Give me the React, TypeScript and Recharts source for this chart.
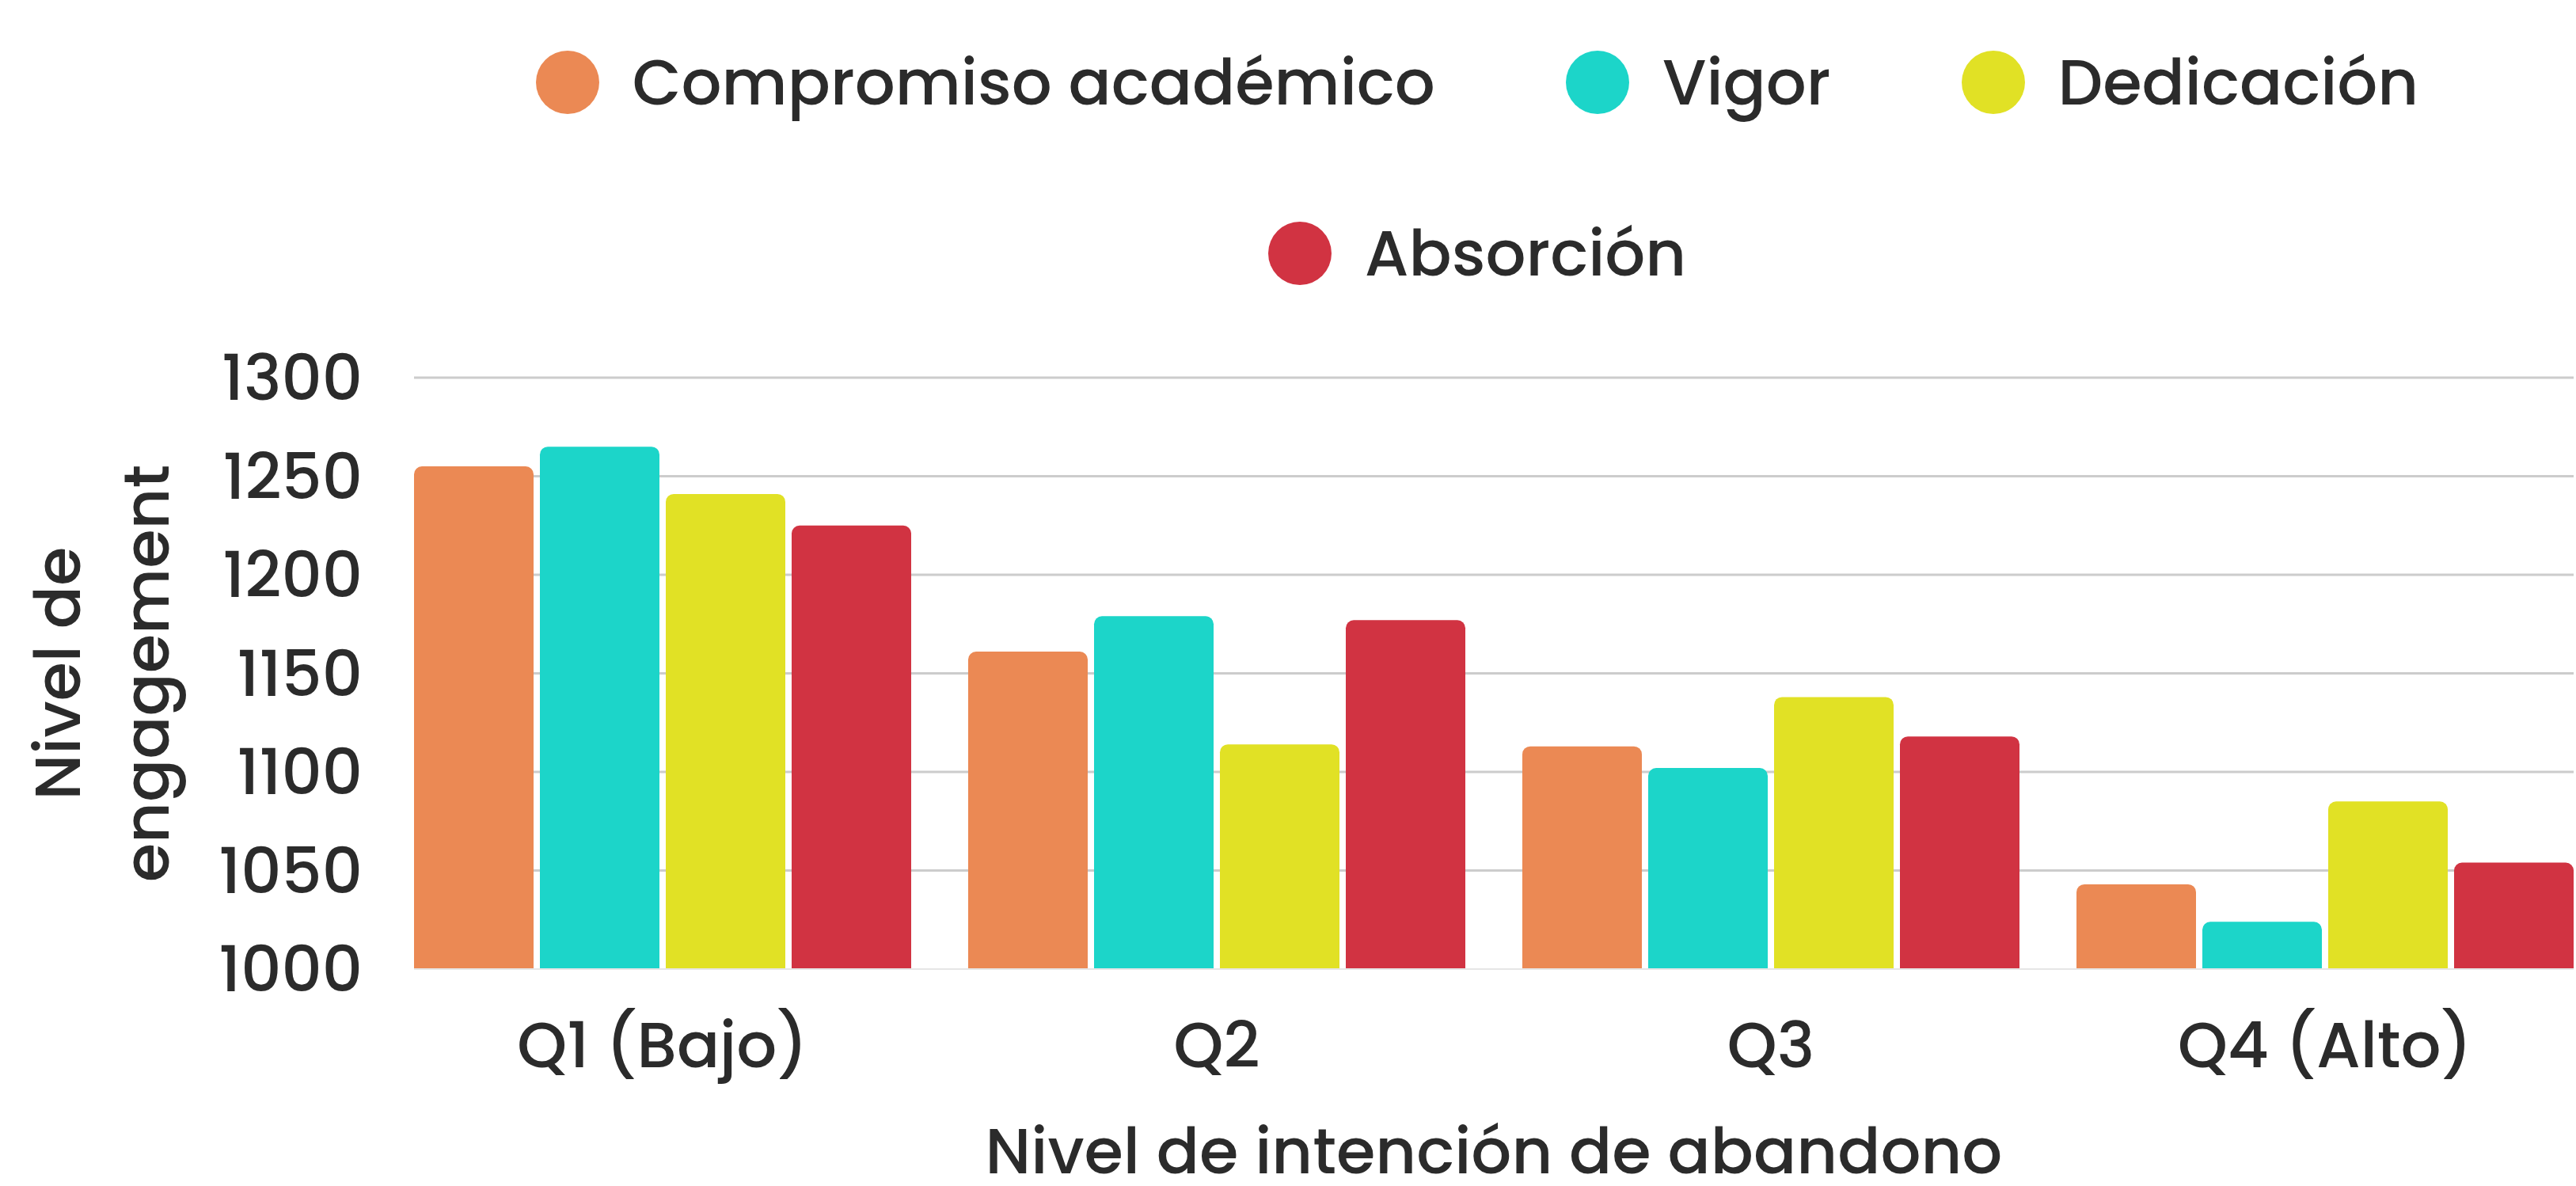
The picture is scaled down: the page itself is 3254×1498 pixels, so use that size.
import React from "react";
import {
  Bar,
  BarChart,
  CartesianGrid,
  Label,
  Legend,
  XAxis,
  YAxis,
} from "recharts";

const categories = ["Q1 (Bajo)", "Q2", "Q3", "Q4 (Alto)"];
const compromiso = [1255, 1161, 1113, 1043];
const vigor = [1265, 1179, 1102, 1024];
const dedicacion = [1241, 1114, 1138, 1085];
const absorcion = [1225, 1177, 1118, 1054];
const yTicks = [1000, 1050, 1100, 1150, 1200, 1250, 1300];

const SERIES = [
  { key: "compromiso", name: "Compromiso académico", color: "#EB8954" },
  { key: "vigor", name: "Vigor", color: "#1CD5C9" },
  { key: "dedicacion", name: "Dedicación", color: "#E1E125" },
  { key: "absorcion", name: "Absorción", color: "#D13342" },
];

const data = categories.map((cat, i) => ({
  cat,
  compromiso: compromiso[i],
  vigor: vigor[i],
  dedicacion: dedicacion[i],
  absorcion: absorcion[i],
}));

const FONT = "Poppins, 'Open Sans', sans-serif";
const WEIGHT = 500;
const TEXT = "#2b2b2b";
const W = 3254;
const H = 1498;

// keep the series order, recharts sorts legend items by name otherwise
const seriesIndex = (name: string) => SERIES.findIndex((s) => s.name === name);

function LegendRows({ payload }: { payload?: any[] }) {
  const items = [...(payload ?? [])].sort(
    (a, b) => seriesIndex(a.value) - seriesIndex(b.value)
  );
  const rows = [items.slice(0, 3), items.slice(3)];
  return (
    <div
      style={{
        boxSizing: "border-box",
        paddingLeft: 478,
        paddingTop: 64,
        width: W,
        fontFamily: FONT,
        fontWeight: WEIGHT,
        fontSize: 80,
        color: TEXT,
      }}
    >
      {rows.map((row, r) => (
        <div
          key={r}
          style={{
            display: "flex",
            justifyContent: "center",
            alignItems: "center",
            columnGap: 165,
            height: 80,
            marginBottom: 136,
          }}
        >
          {row.map((item) => (
            <div
              key={item.value}
              style={{ display: "flex", alignItems: "center", whiteSpace: "nowrap" }}
            >
              <span
                style={{
                  width: 80,
                  height: 80,
                  borderRadius: "50%",
                  background: item.color,
                  marginRight: 42,
                  display: "inline-block",
                }}
              />
              <span style={{ lineHeight: "80px" }}>{item.value}</span>
            </div>
          ))}
        </div>
      ))}
    </div>
  );
}

function YTitle({ viewBox }: any) {
  const cx = 101;
  const cy = viewBox ? viewBox.y + viewBox.height / 2 : 851;
  return (
    <text
      transform={`rotate(-90, ${cx}, ${cy})`}
      x={cx}
      y={cy}
      textAnchor="middle"
      fill={TEXT}
      fontSize={80}
      fontWeight={WEIGHT}
      fontFamily={FONT}
    >
      <tspan x={cx} dy={0}>
        Nivel de
      </tspan>
      <tspan x={cx} dy={112}>
        engagement
      </tspan>
    </text>
  );
}

export default function App() {
  return (
    <div style={{ position: "absolute", left: 0, top: 0, width: W, height: H, background: "#fff" }}>
      <BarChart
        width={W}
        height={H}
        data={data}
        margin={{ top: 477, right: 3, bottom: 0, left: 0 }}
        barGap={8}
        barCategoryGap={36}
      >
        <CartesianGrid
          vertical={false}
          horizontalValues={[1050, 1100, 1150, 1200, 1250, 1300]}
          stroke="#cccccc"
          strokeWidth={3}
        />
        <XAxis
          dataKey="cat"
          padding={{ left: -36, right: -36 }}
          height={274}
          tickLine={false}
          tickSize={0}
          tickMargin={67}
          axisLine={{ stroke: "#e6e6e6", strokeWidth: 2 }}
          tick={{ fill: TEXT, fontSize: 80, fontWeight: WEIGHT, fontFamily: FONT }}
        >
          <Label
            value="Nivel de intención de abandono"
            position="insideBottom"
            offset={16}
            fill={TEXT}
            fontSize={80}
            fontWeight={WEIGHT}
            fontFamily={FONT}
          />
        </XAxis>
        <YAxis
          domain={[1000, 1300]}
          ticks={yTicks}
          width={523}
          axisLine={false}
          tickLine={false}
          tickSize={0}
          tickMargin={65}
          tick={{ fill: TEXT, fontSize: 80, fontWeight: WEIGHT, fontFamily: FONT }}
        >
          <Label content={<YTitle />} />
        </YAxis>
        <Legend
          layout="horizontal"
          verticalAlign="middle"
          align="center"
          wrapperStyle={{ top: 0, left: 0, width: W }}
          content={<LegendRows />}
        />
        {SERIES.map((s) => (
          <Bar
            key={s.key}
            dataKey={s.key}
            name={s.name}
            fill={s.color}
            radius={[10, 10, 0, 0]}
            isAnimationActive={false}
          />
        ))}
      </BarChart>
    </div>
  );
}
